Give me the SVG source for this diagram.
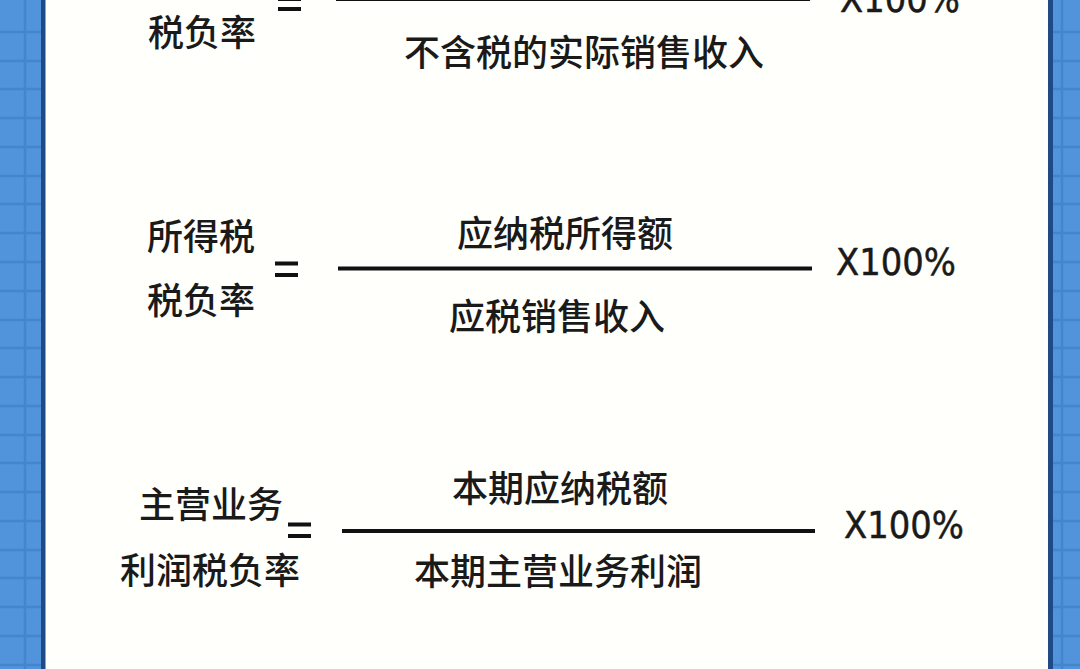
<svg xmlns="http://www.w3.org/2000/svg" width="1080" height="669" viewBox="0 0 1080 669">
<style>
.t{font-family:"Noto Sans CJK SC","Noto Sans",sans-serif;font-size:36px;font-weight:500;fill:#1a1a1a;text-anchor:middle}
.x{font-family:"DejaVu Sans","Liberation Sans",sans-serif;font-size:37px;fill:#1a1a1a;stroke:#1a1a1a;stroke-width:.5}
.r{stroke:#111;stroke-width:4;fill:none}
.g{stroke:#4585cc;stroke-width:2.500;fill:none}
</style>
<rect width="1080" height="669" fill="#fffffb"/>
<g id="borders">
<rect x="0" y="0" width="42" height="669" fill="#5294dc"/>
<rect x="1052" y="0" width="28" height="669" fill="#5294dc"/>
<path class="g" d="M25 0V669M1062 0V669M0 32H42M0 61H42M0 89H42M0 118H42M0 147H42M0 176H42M0 204H42M0 233H42M0 262H42M0 291H42M0 320H42M0 348H42M0 377H42M0 406H42M0 435H42M0 463H42M0 492H42M0 521H42M0 550H42M0 578H42M0 607H42M0 636H42M0 665H42M1052 32H1080M1052 61H1080M1052 89H1080M1052 118H1080M1052 147H1080M1052 176H1080M1052 204H1080M1052 233H1080M1052 262H1080M1052 291H1080M1052 320H1080M1052 348H1080M1052 377H1080M1052 406H1080M1052 435H1080M1052 463H1080M1052 492H1080M1052 521H1080M1052 550H1080M1052 578H1080M1052 607H1080M1052 636H1080M1052 665H1080"/>
<rect x="41" y="0" width="4.500" height="669" fill="#1e4a86"/>
<rect x="1048" y="0" width="5" height="669" fill="#1e4a86"/>
</g>
<g id="formula-1">
<text class="t" x="202" y="46">税负率</text>
<path class="r" d="M278 -1H301M278 9H301"/>
<path class="r" d="M336 -1H810"/>
<text class="t" x="584" y="66">不含税的实际销售收入</text>
<text class="x" x="840" y="12" textLength="120" lengthAdjust="spacingAndGlyphs">X100%</text>
</g>
<g id="formula-2">
<text class="t" x="201" y="250">所得税</text>
<text class="t" x="201" y="314">税负率</text>
<path class="r" d="M275 263.500H298M275 275H298"/>
<path class="r" d="M338 268.500H812"/>
<text class="t" x="565" y="247">应纳税所得额</text>
<text class="t" x="557" y="330">应税销售收入</text>
<text class="x" x="836" y="275" textLength="120" lengthAdjust="spacingAndGlyphs">X100%</text>
</g>
<g id="formula-3">
<text class="t" x="211" y="518">主营业务</text>
<text class="t" x="210" y="584">利润税负率</text>
<path class="r" d="M288 524.500H311M288 536H311"/>
<path class="r" d="M342 531H815"/>
<text class="t" x="560" y="502">本期应纳税额</text>
<text class="t" x="558" y="585">本期主营业务利润</text>
<text class="x" x="844" y="538" textLength="120" lengthAdjust="spacingAndGlyphs">X100%</text>
</g>
</svg>
